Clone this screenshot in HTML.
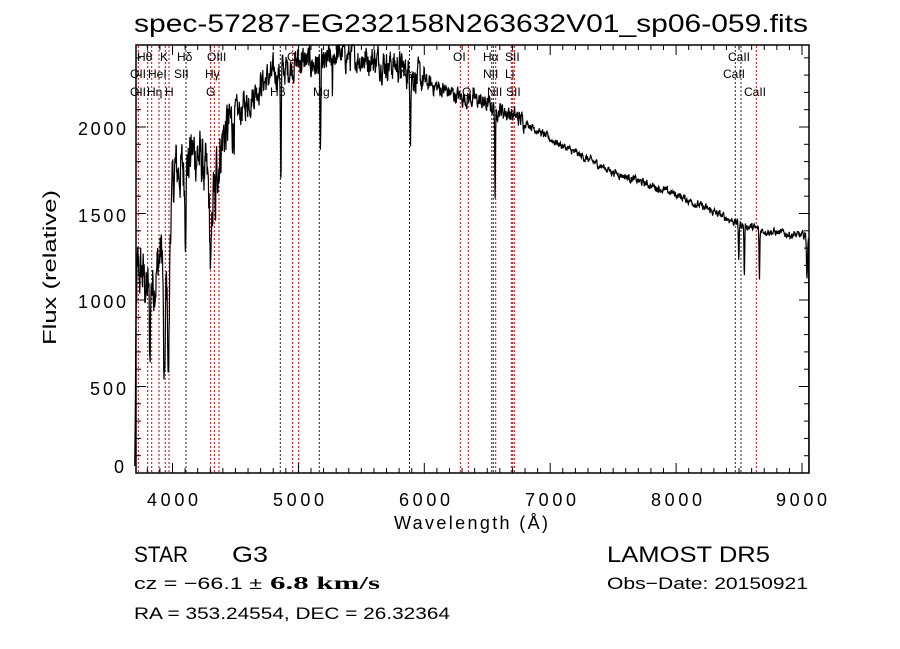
<!DOCTYPE html>
<html><head><meta charset="utf-8"><style>
html,body{margin:0;padding:0;background:#fff;}
svg{display:block;font-family:"Liberation Sans",sans-serif;}
</style></head><body>
<svg id="s" width="900" height="649" viewBox="0 0 900 649" xmlns="http://www.w3.org/2000/svg">
<rect width="900" height="649" fill="#fff"/>
<text x="134" y="32" font-size="25" textLength="674" lengthAdjust="spacingAndGlyphs">spec-57287-EG232158N263632V01_sp06-059.fits</text>
<g id="lines"></g>
<g id="ticks" stroke="#000" stroke-width="1"></g>
<polyline id="spec" fill="none" stroke="#000" stroke-width="1.2"/>
<rect x="136" y="45" width="673" height="428" fill="none" stroke="#000" stroke-width="1.5"/>
<g font-size="12">
<text x="137" y="61">Hθ</text><text x="160" y="61">K</text><text x="177" y="61">Hδ</text><text x="207" y="61">OIII</text><text x="287" y="61">OIII</text>
<text x="130" y="78">OII</text><text x="148" y="78">HeI</text><text x="174" y="78">SII</text><text x="205" y="78">Hγ</text><text x="400" y="78">Na</text>
<text x="130" y="96">OII</text><text x="147" y="96">Hη</text><text x="165" y="96">H</text><text x="206" y="96">G</text><text x="270" y="96">Hβ</text><text x="313" y="96">Mg</text>
<text x="453" y="61">OI</text><text x="483" y="61">Hα</text><text x="505" y="61">SII</text><text x="728" y="61">CaII</text>
<text x="483" y="78">NII</text><text x="505" y="78">Li</text><text x="723" y="78">CaII</text>
<text x="462" y="96">OI</text><text x="487" y="96">NII</text><text x="506" y="96">SII</text><text x="744" y="96">CaII</text>
</g>
<g font-size="18" lengthAdjust="spacingAndGlyphs">
<text x="78" y="135" textLength="48">2000</text><text x="78" y="222" textLength="48">1500</text><text x="78" y="308" textLength="48">1000</text><text x="90" y="395" textLength="36">500</text><text x="114" y="473" textLength="12">0</text>
</g>
<g font-size="18" lengthAdjust="spacingAndGlyphs">
<text x="147" y="506" textLength="51">4000</text><text x="273" y="506" textLength="51">5000</text><text x="399" y="506" textLength="51">6000</text><text x="525" y="506" textLength="51">7000</text><text x="651" y="506" textLength="51">8000</text><text x="776" y="506" textLength="51">9000</text>
<text x="394" y="529" textLength="154">Wavelength (Å)</text>
</g>
<text transform="translate(56,345) rotate(-90)" font-size="18" textLength="155" lengthAdjust="spacingAndGlyphs">Flux (relative)</text>
<text x="134" y="562" font-size="22" textLength="54" lengthAdjust="spacingAndGlyphs">STAR</text>
<text x="232" y="562" font-size="22" textLength="36" lengthAdjust="spacingAndGlyphs">G3</text>
<text x="607" y="562" font-size="22" textLength="163" lengthAdjust="spacingAndGlyphs">LAMOST DR5</text>
<text x="134" y="589" font-size="17" textLength="128" lengthAdjust="spacingAndGlyphs">cz = −66.1 ±</text>
<text x="270" y="589" font-size="18" font-family="Liberation Serif,serif" font-weight="bold" textLength="110" lengthAdjust="spacingAndGlyphs">6.8 km/s</text>
<text x="607" y="589" font-size="17" textLength="201" lengthAdjust="spacingAndGlyphs">Obs−Date: 20150921</text>
<text x="134" y="619" font-size="17" textLength="316" lengthAdjust="spacingAndGlyphs">RA = 353.24554, DEC =  26.32364</text>
</svg>
<script>
var NS="http://www.w3.org/2000/svg";
function X(l){return 172.5+(l-4000)*0.1259;}
function Y(f){return 473-f*0.173;}
function mk(t,a,p){var e=document.createElementNS(NS,t);for(var k in a)e.setAttribute(k,a[k]);p.appendChild(e);return e;}
var tk=document.getElementById('ticks');
for(var l=3800;l<=9000;l+=100){var x=X(l);if(x<137||x>808)continue;var L=(l%1000==0)?10:5;
mk('line',{x1:x,y1:473,x2:x,y2:473-L},tk);mk('line',{x1:x,y1:45,x2:x,y2:45+L},tk);}
for(var f=100;f<=2400;f+=100){var y=Y(f);var L=(f%500==0)?10:5;
mk('line',{x1:136,y1:y,x2:136+L,y2:y},tk);mk('line',{x1:809,y1:y,x2:809-L,y2:y},tk);}
var lg=document.getElementById('lines');
var red=[138.3,147.7,151.7,159,165.3,169,210.7,214.3,219,292.7,298.7,460.3,468.3,491.7,495.7,511.3,512.7,514.3,756.3];
var blk=[186,280.3,319.3,409.5,493.3,735.3,741];
red.forEach(function(x){mk('line',{x1:x,y1:46,x2:x,y2:472,stroke:'#c00000','stroke-dasharray':'2,2'},lg);});
blk.forEach(function(x){mk('line',{x1:x,y1:46,x2:x,y2:472,stroke:'#222','stroke-dasharray':'2,2'},lg);});
var A=[[3700,0],[3705,400],[3712,900],[3720,1150],[3760,1150],[3800,1050],[3850,1100],[3900,1250],[3920,1300],[3940,1050],[3960,1100],[3990,1550],[4020,1750],[4100,1750],[4150,1850],[4200,1850],[4250,1750],[4300,1600],[4340,1700],[4400,1950],[4500,2050],[4600,2150],[4700,2250],[4800,2300],[4900,2330],[5000,2380],[5100,2370],[5200,2350],[5300,2430],[5400,2410],[5500,2400],[5600,2390],[5700,2370],[5800,2350],[5900,2300],[6000,2260],[6100,2230],[6200,2200],[6300,2170],[6400,2160],[6500,2130],[6600,2100],[6700,2070],[6800,2030],[7000,1930],[7200,1850],[7500,1740],[8000,1610],[8500,1440],[8700,1400],[8900,1380],[9000,1370],[9056,1380]];
var D=[[3934,700,6],[3969,650,6],[3820,400,4],[4102,300,4],[4305,450,8],[4340,350,3],[4861,650,3],[5175,500,4],[5270,250,3],[5890,300,3],[6563,550,3],[8498,200,3],[8542,300,3],[8662,300,3],[9040,250,4]];
var s=12345;function r(){s=(s*1103515245+12345)%2147483648;return s/2147483648-0.5;}
function base(l){for(var i=0;i<A.length-1;i++){if(l<=A[i+1][0]){var t=(l-A[i][0])/(A[i+1][0]-A[i][0]);return A[i][1]+t*(A[i+1][1]-A[i][1]);}}return A[A.length-1][1];}
var pts=[],n=0;
for(var l=3700;l<=9054;l+=2.5){var f=base(l);
D.forEach(function(d){f-=d[1]*Math.exp(-Math.pow((l-d[0])/d[2],2)/2);});
var amp=l<4500?260:l<6000?140:l<6800?80:35;n=0.6*n+r()*amp;f+=n;
if(l>3712&&f<0)f=0;if(f>2475)f=2475;pts.push(X(l).toFixed(1)+','+Y(f).toFixed(1));}
pts.push(X(9055).toFixed(1)+','+Y(0));
document.getElementById('spec').setAttribute('points',pts.join(' '));
</script>
</body></html>
